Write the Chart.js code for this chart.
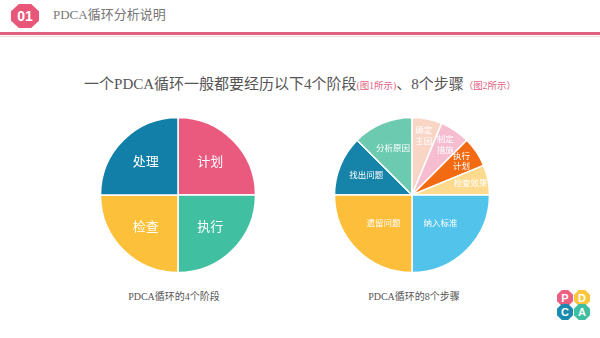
<!DOCTYPE html>
<html>
<head>
<meta charset="utf-8">
<script src="https://cdn.jsdelivr.net/npm/chart.js@4/dist/chart.umd.min.js"></script>
<style>
  body { margin: 0; width: 600px; height: 338px; background: #fff; position: relative; overflow: hidden;
         font-family: "Liberation Serif", "Noto Sans CJK SC", serif; }
  .badge { position: absolute; left: 11px; top: 4px; width: 28px; height: 24px; background: #e8577a;
           clip-path: polygon(28% 0, 72% 0, 100% 30%, 100% 70%, 72% 100%, 28% 100%, 0 70%, 0 30%);
           color: #fff; font: bold 14px "Liberation Sans", sans-serif; text-align: center; line-height: 24px; }
  .head { position: absolute; left: 53px; top: 6px; font-size: 13px; color: #777; line-height: 18px; }
  .rule { position: absolute; left: 0; top: 32px; width: 600px; height: 3px; background: #e0607f; }
  .rule2 { position: absolute; left: 0; top: 36px; width: 600px; height: 1px; background: #f7d3dc; }
  .title { position: absolute; left: 0; top: 74px; width: 600px; text-align: center; font-size: 15px; color: #555;
           line-height: 20px; white-space: nowrap; }
  .title small { font-size: 9.5px; color: #e0607f; }
  .cap { position: absolute; top: 288px; font-size: 10px; color: #555; width: 160px; text-align: center; }
  canvas { position: absolute; }
  .logo div { position: absolute; width: 16px; height: 16px; color: #fff; text-align: center;
              font: bold 11px "Liberation Sans", sans-serif; line-height: 16px;
              clip-path: polygon(30% 0, 70% 0, 100% 30%, 100% 70%, 70% 100%, 30% 100%, 0 70%, 0 30%); }
</style>
</head>
<body>
<div class="badge">01</div>
<div class="head">PDCA循环分析说明</div>
<div class="rule"></div>
<div class="rule2"></div>
<div class="title">一个PDCA循环一般都要经历以下4个阶段<small>(图1所示)</small>、8个步骤<small>（图2所示）</small></div>

<canvas id="pie4" width="170" height="170" style="left:93px; top:110px;"></canvas>
<canvas id="pie8" width="170" height="170" style="left:327px; top:110px;"></canvas>

<div class="cap" style="left:94px;">PDCA循环的4个阶段</div>
<div class="cap" style="left:334px;">PDCA循环的8个步骤</div>

<div class="logo">
  <div style="left:557px; top:290px; background:#eb5f80;">P</div>
  <div style="left:574px; top:290px; background:#fbc63f;">D</div>
  <div style="left:557px; top:304px; background:#1a8aae;">C</div>
  <div style="left:574px; top:304px; background:#3dbfa0;">A</div>
</div>

<script>
// 4 stages
const stageLabels = ["计划", "执行", "检查", "处理"];
const stageValues = [25, 25, 25, 25];
const stageColors = ["#ea5a7f", "#40c0a0", "#fdc03a", "#127fa8"];

// 8 steps (logical order, starting at 9 o'clock)
const stepLabels = ["找出问题", "分析原因", ["确定", "主因"], ["制定", "措施"], ["执行", "计划"], "检查效果", "纳入标准", "遗留问题"];
const stepValues = [12.5, 12.5, 6.25, 6.25, 6.25, 6.25, 25, 25];
const stepColors = ["#1683a8", "#6bcab0", "#f9d5c6", "#f6bcd0", "#f26a12", "#fdda8e", "#52c3eb", "#fdbf3b"];

const sliceLabels = {
  id: "sliceLabels",
  afterDatasetsDraw(chart, args, opts) {
    const ctx = chart.ctx;
    const meta = chart.getDatasetMeta(0);
    ctx.save();
    ctx.fillStyle = "#fff";
    ctx.textAlign = "center";
    ctx.textBaseline = "middle";
    ctx.font = opts.size + "px 'Liberation Serif', 'Noto Sans CJK SC', serif";
    meta.data.forEach((arc, i) => {
      const span = arc.endAngle - arc.startAngle;
      const mid = (arc.startAngle + arc.endAngle) / 2;
      const f = span < Math.PI / 6 ? opts.small : span < Math.PI / 3 ? opts.medium : opts.large;
      const r = arc.outerRadius * f;
      const x = arc.x + Math.cos(mid) * r;
      const y = arc.y + Math.sin(mid) * r;
      let lab = chart.data.labels[i];
      if (!Array.isArray(lab)) lab = [lab];
      const lh = opts.size * 1.25;
      lab.forEach((t, k) => ctx.fillText(t, x, y + (k - (lab.length - 1) / 2) * lh));
    });
    ctx.restore();
  }
};

function makePie(id, labels, values, colors, rotation, labelOpts) {
  new Chart(document.getElementById(id), {
    type: "pie",
    data: {
      labels: labels,
      datasets: [{
        data: values,
        backgroundColor: colors,
        borderColor: "#ffffff",
        borderWidth: 1.5
      }]
    },
    options: {
      responsive: false,
      animation: false,
      radius: 77.5,
      rotation: rotation,
      layout: { padding: 0 },
      plugins: {
        legend: { display: false },
        tooltip: { enabled: false },
        sliceLabels: labelOpts
      }
    },
    plugins: [sliceLabels]
  });
}

makePie("pie4", stageLabels, stageValues, stageColors, 0, { size: 13, small: 0.6, medium: 0.6, large: 0.59 });
makePie("pie8", stepLabels, stepValues, stepColors, 270, { size: 8.5, small: 0.77, medium: 0.64, large: 0.52 });
</script>
</body>
</html>
